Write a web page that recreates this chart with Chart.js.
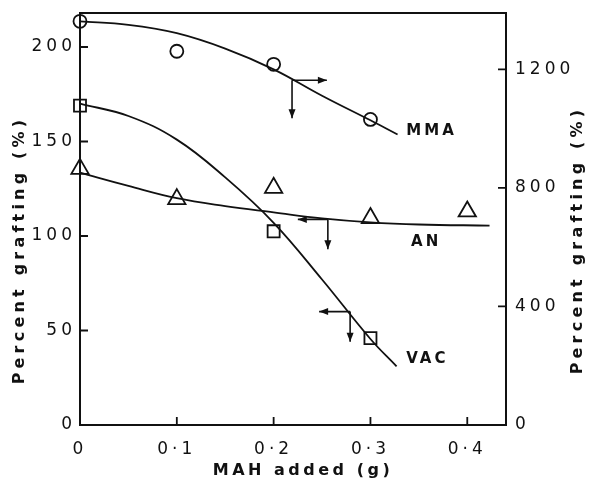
<!DOCTYPE html>
<html><head><meta charset="utf-8">
<script src="https://cdn.jsdelivr.net/npm/chart.js@4.4.0/dist/chart.umd.min.js"></script>
<style>html,body{margin:0;padding:0;background:#fff}#wrap{width:592px;height:490px;position:relative}</style>
</head><body><div id="wrap"><canvas id="c"></canvas></div>
<script>
// ---- data ----
const xTickValues = [0, 0.1, 0.2, 0.3, 0.4];
const xTickLabels = ['0', '0\u00B71', '0\u00B72', '0\u00B73', '0\u00B74'];
const leftTickValues = [0, 50, 100, 150, 200];
const rightTickValues = [0, 400, 800, 1200];

// measured points
const mmaX = [0, 0.1, 0.2, 0.3];
const mmaY = [1362, 1261, 1217, 1031];          // right axis
const anX = [0, 0.1, 0.2, 0.3, 0.4];
const anY = [135.5, 119.5, 125.5, 109.5, 113];   // left axis
const vacX = [0, 0.2, 0.3];
const vacY = [169, 102.5, 46];                   // left axis

// fitted curves
const mmaFitX = [0, 0.05, 0.1, 0.15, 0.2, 0.25, 0.3, 0.328];
const mmaFitY = [1362, 1350, 1322, 1270, 1200, 1111, 1028, 980];
const anFitX = [0, 0.05, 0.1, 0.15, 0.2, 0.25, 0.3, 0.35, 0.423];
const anFitY = [133.5, 126.5, 120, 115.8, 112.5, 109.3, 107.2, 106.1, 105.5];
const vacFitX = [0, 0.05, 0.1, 0.15, 0.2, 0.25, 0.3, 0.327];
const vacFitY = [170, 163.5, 151, 131, 107, 77, 45.5, 31];

// series labels and axis-indicator arrows (data coordinates)
const seriesNames = ['MMA', 'AN', 'VAC'];
const seriesAxis = ['y1', 'y', 'y'];
const labelX = [0.337, 0.342, 0.337];
const labelY = [990, 97, 35];
const arrowX = [0.219, 0.256, 0.279];
const arrowY = [1163, 108.8, 60];
const arrowHX = [0.255, 0.225, 0.247];
const arrowVY = [1035, 93, 44];

const pts = (xs, ys) => xs.map((x, i) => ({x, y: ys[i]}));
const FONT = '"DejaVu Sans", sans-serif';

const fitStyle = {showLine: true, pointRadius: 0, borderColor: '#111', borderWidth: 1.8,
  tension: 0.4, fill: false, clip: false};
const markStyle = {showLine: false, backgroundColor: '#fff', borderColor: '#111', borderWidth: 1.8, clip: false};

const framePlugin = {
  id: 'frame',
  beforeDraw(chart) { chart.ctx.letterSpacing = '4px'; },
  afterDraw(chart) {
    const ctx = chart.ctx, a = chart.chartArea;
    const sx = chart.scales.x, sy = chart.scales.y, sy1 = chart.scales.y1;
    ctx.save();
    ctx.strokeStyle = '#111'; ctx.lineWidth = 2;
    ctx.strokeRect(a.left, a.top, a.right - a.left, a.bottom - a.top);
    // inward ticks
    ctx.lineWidth = 1.8;
    ctx.beginPath();
    sx.ticks.forEach(t => { if (t.value > 0) { const p = sx.getPixelForValue(t.value); ctx.moveTo(p, a.bottom); ctx.lineTo(p, a.bottom - 8); }});
    sy.ticks.forEach(t => { if (t.value > 0) { const p = sy.getPixelForValue(t.value); ctx.moveTo(a.left, p); ctx.lineTo(a.left + 8, p); }});
    sy1.ticks.forEach(t => { if (t.value > 0) { const p = sy1.getPixelForValue(t.value); ctx.moveTo(a.right, p); ctx.lineTo(a.right - 8, p); }});
    ctx.stroke();
    // arrows
    const head = (x, y, dx, dy) => {
      const L = 9, W = 3.5;
      ctx.beginPath();
      ctx.moveTo(x, y);
      ctx.lineTo(x - dx * L - dy * W, y - dy * L + dx * W);
      ctx.lineTo(x - dx * L + dy * W, y - dy * L - dx * W);
      ctx.closePath(); ctx.fillStyle = '#111'; ctx.fill();
    };
    ctx.lineWidth = 1.6;
    for (let i = 0; i < arrowX.length; i++) {
      const ys = chart.scales[seriesAxis[i]];
      const x0 = sx.getPixelForValue(arrowX[i]), y0 = ys.getPixelForValue(arrowY[i]);
      const xh = sx.getPixelForValue(arrowHX[i]), yv = ys.getPixelForValue(arrowVY[i]);
      ctx.beginPath(); ctx.moveTo(x0, y0); ctx.lineTo(xh, y0); ctx.moveTo(x0, y0); ctx.lineTo(x0, yv); ctx.stroke();
      head(xh, y0, Math.sign(xh - x0), 0);
      head(x0, yv, 0, 1);
    }
    // series labels
    ctx.fillStyle = '#111';
    ctx.letterSpacing = '3px';
    ctx.font = 'bold 15px ' + FONT;
    ctx.textAlign = 'left'; ctx.textBaseline = 'middle';
    for (let i = 0; i < seriesNames.length; i++) {
      const ys = chart.scales[seriesAxis[i]];
      ctx.fillText(seriesNames[i], sx.getPixelForValue(labelX[i]), ys.getPixelForValue(labelY[i]));
    }
    // axis titles
    ctx.textAlign = 'center'; ctx.textBaseline = 'middle';
    ctx.font = 'bold 16px ' + FONT;
    ctx.letterSpacing = '3.5px';
    ctx.fillText('MAH added (g)', (a.left + a.right) / 2 + 10, 471);
    ctx.letterSpacing = '4.2px';
    ctx.save(); ctx.translate(20, 250); ctx.rotate(-Math.PI / 2); ctx.fillText('Percent grafting (%)', 0, 0); ctx.restore();
    ctx.save(); ctx.translate(578, 240); ctx.rotate(-Math.PI / 2); ctx.fillText('Percent grafting (%)', 0, 0); ctx.restore();
    ctx.restore();
  }
};

const noPad = s => { s.paddingTop = 0; s.paddingBottom = 0; s.paddingLeft = 0; s.paddingRight = 0; };

new Chart(document.getElementById('c'), {
  type: 'scatter',
  data: {
    datasets: [
      {label: 'MMA fit', data: pts(mmaFitX, mmaFitY), yAxisID: 'y1', ...fitStyle},
      {label: 'AN fit', data: pts(anFitX, anFitY), yAxisID: 'y', ...fitStyle},
      {label: 'VAC fit', data: pts(vacFitX, vacFitY), yAxisID: 'y', ...fitStyle},
      {label: 'MMA', data: pts(mmaX, mmaY), yAxisID: 'y1', pointStyle: 'circle', pointRadius: 6.5, ...markStyle},
      {label: 'AN', data: pts(anX, anY), yAxisID: 'y', pointStyle: 'triangle', pointRadius: 10, ...markStyle},
      {label: 'VAC', data: pts(vacX, vacY), yAxisID: 'y', pointStyle: 'rect', pointRadius: 8.5, ...markStyle}
    ]
  },
  options: {
    responsive: true, maintainAspectRatio: false, animation: false,
    layout: {padding: {top: 13, left: 0, right: 0, bottom: 0}},
    plugins: {legend: {display: false}, tooltip: {enabled: false}},
    scales: {
      x: {
        type: 'linear', min: 0, max: 0.44,
        afterBuildTicks: s => { s.ticks = xTickValues.map(v => ({value: v})); },
        afterFit: s => { s.height = 65; noPad(s); },
        grid: {display: false, drawTicks: false}, border: {display: false},
        ticks: {padding: 14, color: '#111', font: {family: FONT, size: 17},
          maxRotation: 0, autoSkip: false,
          callback: v => { const i = xTickValues.findIndex(t => Math.abs(t - v) < 1e-9); return i >= 0 ? xTickLabels[i] : ''; }}
      },
      y: {
        position: 'left', min: 0, max: 218,
        afterBuildTicks: s => { s.ticks = leftTickValues.map(v => ({value: v})); },
        afterFit: s => { s.width = 80; noPad(s); },
        grid: {display: false, drawTicks: false}, border: {display: false},
        ticks: {padding: 4, color: '#111', font: {family: FONT, size: 17}, callback: v => String(v)}
      },
      y1: {
        position: 'right', min: 0, max: 1390,
        afterBuildTicks: s => { s.ticks = rightTickValues.map(v => ({value: v})); },
        afterFit: s => { s.width = 86; noPad(s); },
        grid: {display: false, drawTicks: false}, border: {display: false},
        ticks: {padding: 9, color: '#111', font: {family: FONT, size: 17}, callback: v => String(v)}
      }
    }
  },
  plugins: [framePlugin]
});
</script>
</body></html>
